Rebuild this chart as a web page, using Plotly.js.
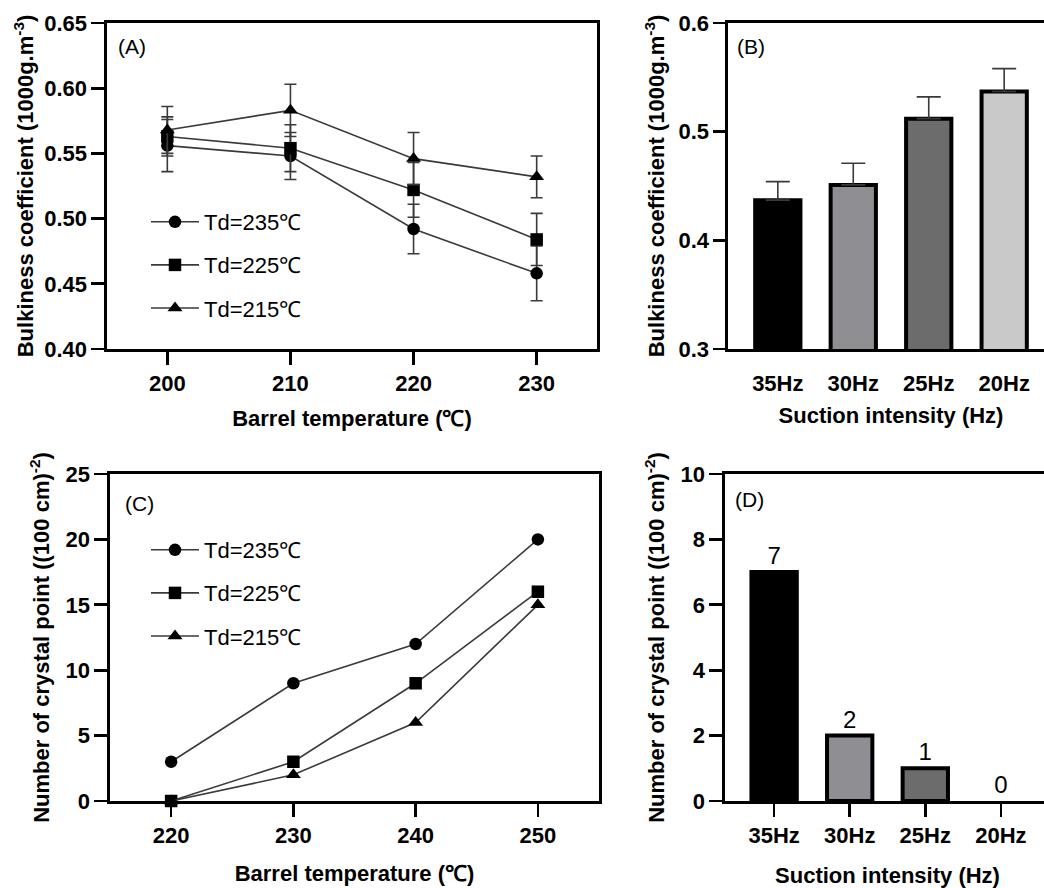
<!DOCTYPE html>
<html>
<head>
<meta charset="utf-8">
<script src="https://cdn.plot.ly/plotly-3.0.1.min.js"></script>
<style>
html,body{margin:0;padding:0;overflow:hidden;background:#fff;}
#chart{width:1070px;height:888px;}
</style>
</head>
<body>
<div id="chart"></div>
<script>
// ---------- data ----------
const tempA = [200, 210, 220, 230];
const bulk235 = [0.556, 0.548, 0.492, 0.458];
const bulk235Err = [0.020, 0.018, 0.019, 0.021];
const bulk225 = [0.563, 0.554, 0.522, 0.484];
const bulk225Err = [0.015, 0.018, 0.021, 0.020];
const bulk215 = [0.568, 0.583, 0.546, 0.532];
const bulk215Err = [0.018, 0.020, 0.020, 0.016];

const suction = ['35Hz', '30Hz', '25Hz', '20Hz'];
const bulkSuction = [0.437, 0.451, 0.512, 0.537];
const bulkSuctionErr = [0.017, 0.020, 0.020, 0.021];

const tempC = [220, 230, 240, 250];
const crystal235 = [3, 9, 12, 20];
const crystal225 = [0, 3, 9, 16];
const crystal215 = [0, 2, 6, 15];

const crystalSuction = [7, 2, 1, 0];

const seriesNames = ['Td=235℃', 'Td=225℃', 'Td=215℃'];
const barColors = ['#000000', '#8e8e93', '#6c6c6c', '#c9c9c9'];

// ---------- layout helpers ----------
const W = 1070, H = 888;
const fx = p => p / W;
const fy = p => 1 - p / H;

const FONT = 'Liberation Sans, Arial, Helvetica, sans-serif';
const LINE = '#3a3a3a';
const symbols = ['circle', 'square', 'triangle-up'];

function lineTrace(x, y, err, i, xa, ya, lg) {
  const t = {
    type: 'scatter', mode: 'lines+markers', x: x, y: y,
    name: seriesNames[i], xaxis: xa, yaxis: ya, legend: lg,
    legendgroup: lg + i,
    line: {color: LINE, width: 1.6},
    marker: {symbol: symbols[i], size: i === 2 ? 13 : 12.5, color: '#000'},
    cliponaxis: false
  };
  if (err) t.error_y = {type: 'data', array: err, visible: true, color: LINE, thickness: 1.6, width: 6};
  return t;
}

// bars with zero height get no outline
const outlineD = crystalSuction.map(v => (v === 0 ? 0 : 4));

const traces = [
  lineTrace(tempA, bulk235, bulk235Err, 0, 'x', 'y', 'legend'),
  lineTrace(tempA, bulk225, bulk225Err, 1, 'x', 'y', 'legend'),
  lineTrace(tempA, bulk215, bulk215Err, 2, 'x', 'y', 'legend'),
  {
    type: 'bar', x: suction, y: bulkSuction, xaxis: 'x2', yaxis: 'y2', showlegend: false,
    width: 0.6,
    marker: {color: barColors, line: {color: '#000', width: 4}},
    error_y: {type: 'data', symmetric: false, array: bulkSuctionErr, arrayminus: [0, 0, 0, 0],
              color: LINE, thickness: 1.6, width: 12}
  },
  lineTrace(tempC, crystal235, null, 0, 'x3', 'y3', 'legend2'),
  lineTrace(tempC, crystal225, null, 1, 'x3', 'y3', 'legend2'),
  lineTrace(tempC, crystal215, null, 2, 'x3', 'y3', 'legend2'),
  {
    type: 'bar', x: suction, y: crystalSuction, xaxis: 'x4', yaxis: 'y4', showlegend: false,
    width: 0.6,
    marker: {color: barColors, line: {color: '#000', width: outlineD}},
    text: crystalSuction.map(String), textposition: 'outside', cliponaxis: false,
    textfont: {family: FONT, size: 24, color: '#000'}
  }
];

const tickFont = {family: FONT, size: 22, color: '#000', weight: 'bold'};
const titleFont = {family: FONT, size: 22, color: '#000', weight: 'bold'};
const legFont = {family: FONT, size: 22, color: '#000'};

function axis(extra) {
  return Object.assign({
    showline: true, linecolor: '#000', linewidth: 2.6, mirror: true,
    ticks: 'outside', ticklen: 13, tickwidth: 2.6, tickcolor: '#000',
    showgrid: false, zeroline: false, tickfont: tickFont, automargin: false,
    fixedrange: true
  }, extra);
}

const layout = {
  width: W, height: H,
  margin: {l: 0, r: 0, t: 0, b: 0},
  paper_bgcolor: '#fff', plot_bgcolor: '#fff',
  font: {family: FONT, color: '#000'},
  showlegend: true,
  xaxis: axis({domain: [fx(107), fx(597)], anchor: 'y', range: [195.1, 234.9],
    tickvals: tempA, title: {text: 'Barrel temperature (℃)', font: titleFont, standoff: 16}}),
  yaxis: axis({domain: [fy(349), fy(23)], anchor: 'x', range: [0.40, 0.65], dtick: 0.05,
    tickformat: '.2f', title: {text: 'Bulkiness coefficient (1000g.m<sup>-3</sup>)', font: titleFont, standoff: 5}}),
  xaxis2: axis({domain: [fx(728), fx(1054)], anchor: 'y2', range: [-0.66, 3.66],
    tickcolor: 'rgba(0,0,0,0)', title: {text: 'Suction intensity (Hz)', font: titleFont, standoff: 13}}),
  yaxis2: axis({domain: [fy(349), fy(23)], anchor: 'x2', range: [0.3, 0.6], dtick: 0.1, ticklen: 12,
    tickformat: '.1f', title: {text: 'Bulkiness coefficient (1000g.m<sup>-3</sup>)', font: titleFont, standoff: 8}}),
  xaxis3: axis({domain: [fx(110), fx(599)], anchor: 'y3', range: [215, 255],
    tickvals: tempC, title: {text: 'Barrel temperature (℃)', font: titleFont, standoff: 19}}),
  yaxis3: axis({domain: [fy(801), fy(474)], anchor: 'x3', range: [0, 25], dtick: 5,
    title: {text: 'Number of crystal point ((100 cm)<sup>-2</sup>)', font: titleFont, standoff: 10}}),
  xaxis4: axis({domain: [fx(725), fx(1050)], anchor: 'y4', range: [-0.65, 3.65],
    title: {text: 'Suction intensity (Hz)', font: titleFont, standoff: 24}}),
  yaxis4: axis({domain: [fy(801), fy(474)], anchor: 'x4', range: [0, 10], dtick: 2,
    title: {text: 'Number of crystal point ((100 cm)<sup>-2</sup>)', font: titleFont, standoff: 10}}),
  legend: {x: fx(146), y: fy(201), xanchor: 'left', yanchor: 'top', bgcolor: 'rgba(0,0,0,0)',
    font: legFont, tracegroupgap: 11.5, traceorder: 'grouped', itemwidth: 48},
  legend2: {x: fx(146), y: fy(529), xanchor: 'left', yanchor: 'top', bgcolor: 'rgba(0,0,0,0)',
    font: legFont, tracegroupgap: 11.5, traceorder: 'grouped', itemwidth: 48},
  annotations: [
    {text: '(A)', x: fx(116), y: fy(46), xref: 'paper', yref: 'paper', xanchor: 'left', yanchor: 'middle', showarrow: false, font: {family: FONT, size: 21, color: '#000'}},
    {text: '(B)', x: fx(735), y: fy(46), xref: 'paper', yref: 'paper', xanchor: 'left', yanchor: 'middle', showarrow: false, font: {family: FONT, size: 21, color: '#000'}},
    {text: '(C)', x: fx(123), y: fy(503), xref: 'paper', yref: 'paper', xanchor: 'left', yanchor: 'middle', showarrow: false, font: {family: FONT, size: 21, color: '#000'}},
    {text: '(D)', x: fx(733), y: fy(499), xref: 'paper', yref: 'paper', xanchor: 'left', yanchor: 'middle', showarrow: false, font: {family: FONT, size: 21, color: '#000'}}
  ]
};

Plotly.newPlot('chart', traces, layout, {displayModeBar: false, staticPlot: true});
</script>
</body>
</html>
